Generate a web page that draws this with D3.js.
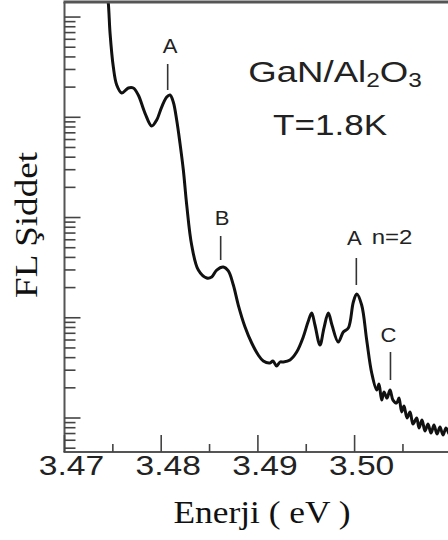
<!DOCTYPE html>
<meta charset="utf-8">
<style>
body { margin: 0; background: #fff; }
svg { display: block; }
.curve { fill: none; stroke: #111; stroke-width: 3px; stroke-linejoin: round; }
.frame { stroke: #555; fill: none; }
.sans { font-family: "Liberation Sans", Arial, sans-serif; fill: #222; }
.serif { font-family: "Liberation Serif", "Times New Roman", serif; fill: #111; }
</style>
<body>
<script src="https://d3js.org/d3.v7.min.js"></script>
<script>

// photoluminescence spectrum (intensity in arbitrary units, log axis)
var energy = [3.47429, 3.47453, 3.47471, 3.47505, 3.47540, 3.47592, 3.47660, 3.47711, 3.47763, 3.47832,
  3.47902, 3.47953, 3.48005, 3.48057, 3.48091, 3.48125, 3.48160, 3.48194, 3.48229, 3.48264,
  3.48315, 3.48384, 3.48471, 3.48522, 3.48574, 3.48642, 3.48694, 3.48746, 3.48797, 3.48867,
  3.48936, 3.49004, 3.49056, 3.49125, 3.49156, 3.49194, 3.49229, 3.49263, 3.49332, 3.49401,
  3.49469, 3.49518, 3.49556, 3.49590, 3.49642, 3.49683, 3.49728, 3.49766, 3.49831, 3.49883,
  3.49935, 3.49987, 3.50022, 3.50073, 3.50125, 3.50177, 3.50229, 3.50252, 3.50280, 3.50304,
  3.50335, 3.50366, 3.50397, 3.50435, 3.50459, 3.50487, 3.50511, 3.50542, 3.50573, 3.50604,
  3.50642, 3.50666, 3.50697, 3.50728, 3.50759, 3.50790, 3.50821, 3.50852, 3.50883, 3.50914,
  3.50945, 3.50976];
var intensity = [20850, 13800, 6920, 3170, 2099, 1746, 1959, 1959, 1667, 1103,
  818, 939, 1265, 1592, 1667, 1419, 939, 553, 298, 133,
  53.2, 29.9, 24.9, 25.5, 29.9, 32.1, 29.3, 21.2, 13.4, 8.09,
  5.60, 4.25, 3.70, 3.54, 3.70, 3.30, 3.62, 3.62, 3.79, 4.55,
  6.43, 9.07, 11.15, 8.47, 5.35, 7.90, 11.15, 8.47, 5.73, 7.21,
  7.90, 14.36, 17.26, 13.4, 6.00, 2.81, 1.90, 2.18, 1.51, 1.82,
  1.58, 1.90, 1.51, 1.41, 1.58, 1.15, 1.32, 1.00, 1.15, 0.87,
  1.00, 0.795, 0.955, 0.742, 0.87, 0.708, 0.851, 0.692, 0.813, 0.677,
  0.795, 0.692];

var xMajor = [3.47, 3.48, 3.49, 3.50];
var xMinor = [3.475, 3.485, 3.495, 3.505];
var xTickLabels = ["3.47", "3.48", "3.49", "3.50"];

// peak markers: label, energy of the mark
var peakLabels = ["A", "B", "A", "C"];
var peakEnergy = [3.48067, 3.48615, 3.50018, 3.50371];

var W = 448, H = 540;
var pLeft = 64.5, pTop = 2, pBottom = 452;

var x = d3.scaleLinear().domain([3.47, 3.51]).range([pLeft, pLeft + 386.8]);
var y = d3.scaleLog().domain([0.458, 14130]).range([pBottom, pTop]);

var svg = d3.select("body").append("svg")
    .attr("width", W)
    .attr("height", H);

svg.append("clipPath").attr("id", "plot")
  .append("rect").attr("x", pLeft).attr("y", pTop).attr("width", W - pLeft).attr("height", pBottom - pTop);

// curve
var line = d3.line()
    .x(function(d) { return x(d[0]); })
    .y(function(d) { return y(d[1]); })
    .curve(d3.curveCatmullRom.alpha(0.5));

svg.append("path")
    .attr("class", "curve")
    .attr("clip-path", "url(#plot)")
    .attr("d", line(d3.zip(energy, intensity)));

// frame: left, top and bottom
svg.append("path").attr("class", "frame").attr("stroke-width", 2)
    .attr("d", "M" + pLeft + "," + pBottom + "V" + pTop);
svg.append("path").attr("class", "frame").attr("stroke-width", 3)
    .attr("d", "M" + (pLeft - 1) + "," + pTop + "H" + W);
svg.append("path").attr("class", "frame").attr("stroke-width", 2)
    .attr("d", "M" + (pLeft - 1) + "," + pBottom + "H" + W);

// y ticks (log decades, inward)
var yt = [];
for (var k = -1; k <= 4; k++) {
  for (var m = 1; m <= 9; m++) {
    var v = m * Math.pow(10, k);
    if (v >= y.domain()[0] && v <= y.domain()[1]) yt.push({v: v, major: m === 1});
  }
}
svg.append("g").selectAll("line").data(yt).join("line")
    .attr("x1", pLeft).attr("x2", function(d) { return pLeft + (d.major ? 16 : 11); })
    .attr("y1", function(d) { return y(d.v); }).attr("y2", function(d) { return y(d.v); })
    .attr("stroke", "#444").attr("stroke-width", 1.6);

// x ticks (inward)
var xt = xMajor.map(function(v) { return {v: v, len: 17}; })
    .concat(xMinor.map(function(v) { return {v: v, len: 8}; }));
svg.append("g").selectAll("line").data(xt).join("line")
    .attr("x1", function(d) { return x(d.v); }).attr("x2", function(d) { return x(d.v); })
    .attr("y1", pBottom).attr("y2", function(d) { return pBottom - d.len; })
    .attr("stroke", "#444").attr("stroke-width", 1.6);

function stretched(cx, by, sx, cls, size) {
  return svg.append("g")
      .attr("transform", "translate(" + cx + "," + by + ") scale(" + sx + ",1)")
    .append("text")
      .attr("class", cls)
      .attr("text-anchor", "middle")
      .style("font-size", size + "px");
}

xMajor.forEach(function(v, i) {
  stretched(x(v) + 7, 475, 1.2, "sans", 28).text(xTickLabels[i]);
});

// axis titles
svg.append("text").attr("class", "serif")
    .attr("x", 262).attr("y", 523)
    .attr("text-anchor", "middle")
    .style("font-size", "31px")
    .attr("textLength", 177).attr("lengthAdjust", "spacingAndGlyphs")
    .text("Enerji ( eV )");

svg.append("text").attr("class", "serif")
    .attr("transform", "translate(36.5,225) rotate(-90)")
    .attr("text-anchor", "middle")
    .style("font-size", "31px")
    .attr("textLength", 146).attr("lengthAdjust", "spacingAndGlyphs")
    .text("FL Şiddet");

// sample labels
var g1 = stretched(335, 81.5, 1.22, "sans", 30);
g1.append("tspan").text("GaN/Al");
g1.append("tspan").attr("dy", 5.5).style("font-size", "20px").text("2");
g1.append("tspan").attr("dy", -5.5).text("O");
g1.append("tspan").attr("dy", 5.5).style("font-size", "20px").text("3");

stretched(330, 135, 1.17, "sans", 30).text("T=1.8K");

// peak markers
var labelY = [53, 225, 245, 342];
var tickTop = [64, 236, 258, 352];
var tickBot = [90, 260, 285, 380];
peakEnergy.forEach(function(e, i) {
  var px = x(e);
  svg.append("line")
      .attr("x1", px).attr("x2", px)
      .attr("y1", tickTop[i]).attr("y2", tickBot[i])
      .attr("stroke", "#333").attr("stroke-width", 1.6);
  stretched(px + (i === 0 ? 2.5 : i === 1 ? 1.5 : -2), labelY[i], 1.1, "sans", 20).text(peakLabels[i]);
});
stretched(392, 244, 1.2, "sans", 20).text("n=2");

</script>
</body>
